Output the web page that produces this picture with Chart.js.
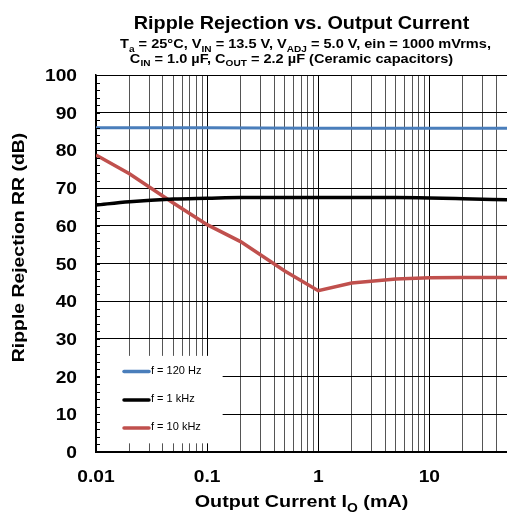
<!DOCTYPE html>
<html>
<head>
<meta charset="utf-8">
<script src="https://cdn.jsdelivr.net/npm/chart.js@4.4.0/dist/chart.umd.min.js"></script>
<style>
  html, body { margin: 0; padding: 0; background: #fff; }
  canvas { display: block; }
</style>
</head>
<body>
<canvas id="myChart" width="507" height="514"></canvas>
<script>
// datos
var xDecadas = [0.01, 0.1, 1, 10];
var xEtiquetas = ['0.01', '0.1', '1', '10'];
var yEtiquetas = [0, 10, 20, 30, 40, 50, 60, 70, 80, 90, 100];

var corriente120 = [0.01, 0.1, 1, 10, 50];
var rr120 = [86.0, 86.0, 85.9, 85.9, 85.9];

var corriente1k = [0.01, 0.02, 0.05, 0.1, 0.2, 0.5, 1, 2, 5, 10, 20, 50];
var rr1k = [65.5, 66.4, 67.1, 67.3, 67.5, 67.5, 67.5, 67.5, 67.5, 67.4, 67.2, 66.9];

var corriente10k = [0.01, 0.02, 0.05, 0.1, 0.2, 0.5, 1, 2, 5, 10, 20, 50];
var rr10k = [78.8, 73.8, 66.0, 60.3, 55.8, 48.0, 42.8, 44.8, 45.9, 46.2, 46.3, 46.3];

var series = ['f = 120 Hz', 'f = 1 kHz', 'f = 10 kHz'];
var colores = ['#4a7ebb', '#000000', '#c0504d'];

function puntos(xs, ys){
  var out = [];
  for (var i = 0; i < xs.length; i++){
    out.push({x: xs[i], y: ys[i]});
  }
  return out;
}

// ticks del eje x: 1..9 por decada hasta 50
var xTicks = [];
for (var d = 0; d < xDecadas.length; d++){
  for (var m = 1; m <= 9; m++){
    var v = +(xDecadas[d] * m).toPrecision(3);
    if (v <= 50) xTicks.push(v);
  }
}

const FONT = '"Liberation Sans", Arial, sans-serif';

// texto con subindices: [[texto, esSub], ...], estirado en x por sx
function textoRico(ctx, partes, x, y, size, sx, align){
  var subSize = Math.round(size * 0.72);
  var total = 0;
  ctx.save();
  partes.forEach(function(p){
    ctx.font = 'bold ' + (p[1] ? subSize : size) + 'px ' + FONT;
    total += ctx.measureText(p[0]).width;
  });
  var x0 = align == 'right' ? x - total * sx : x - total * sx / 2;
  ctx.translate(x0, y);
  ctx.scale(sx, 1);
  ctx.textAlign = 'left';
  ctx.textBaseline = 'alphabetic';
  var px = 0;
  partes.forEach(function(p){
    ctx.font = 'bold ' + (p[1] ? subSize : size) + 'px ' + FONT;
    ctx.fillText(p[0], px, p[1] ? size * 0.28 : 0);
    px += ctx.measureText(p[0]).width;
  });
  ctx.restore();
}

const decoracion = {
  id: 'decoracion',
  beforeDatasetsDraw(chart){
    const ctx = chart.ctx;
    const xs = chart.scales.x, ys = chart.scales.y;
    // fondo blanco de la leyenda
    ctx.save();
    ctx.fillStyle = '#fff';
    ctx.fillRect(xs.left + 4, ys.getPixelForValue(25.5), xs.getPixelForValue(0.138) - xs.left - 4, ys.getPixelForValue(2.3) - ys.getPixelForValue(25.5));
    ctx.restore();
  },
  afterDraw(chart){
    const ctx = chart.ctx;
    const area = chart.chartArea;
    const xs = chart.scales.x, ys = chart.scales.y;
    ctx.save();
    // ticks menores del eje y hacia adentro
    ctx.strokeStyle = '#000';
    ctx.lineWidth = 1;
    for (var v = 0; v <= 100; v += 2){
      var py = Math.round(ys.getPixelForValue(v)) + 0.5;
      ctx.beginPath();
      ctx.moveTo(area.left, py);
      ctx.lineTo(area.left + 4, py);
      ctx.stroke();
    }
    // leyenda
    var ly = [371.5, 400, 428];
    for (var i = 0; i < series.length; i++){
      ctx.strokeStyle = colores[i];
      ctx.lineWidth = 3.5;
      ctx.lineCap = 'round';
      ctx.beginPath();
      ctx.moveTo(124, ly[i]);
      ctx.lineTo(149, ly[i]);
      ctx.stroke();
      ctx.fillStyle = '#000';
      ctx.font = '11px ' + FONT;
      ctx.textAlign = 'left';
      ctx.textBaseline = 'middle';
      ctx.fillText(series[i], 151, ly[i] - 1);
    }
    ctx.fillStyle = '#000';
    // etiquetas de los ejes
    yEtiquetas.forEach(function(v){
      textoRico(ctx, [[String(v), false]], 77, ys.getPixelForValue(v) + 6, 17, 1.13, 'right');
    });
    xDecadas.forEach(function(v, k){
      textoRico(ctx, [[xEtiquetas[k], false]], xs.getPixelForValue(v), 481.5, 17, 1.13, 'center');
    });
    // titulos
    var cx = (area.left + area.right) / 2;
    textoRico(ctx, [['Ripple Rejection vs. Output Current', false]], cx, 28.5, 18, 1.1, 'center');
    textoRico(ctx, [['T', false], ['a', true], [' = 25\u00B0C, V', false], ['IN', true],
      [' = 13.5 V, V', false], ['ADJ', true], [' = 5.0 V, ein = 1000 mVrms,', false]], cx + 4, 48, 13, 1.12, 'center');
    textoRico(ctx, [['C', false], ['IN', true], [' = 1.0 \u00B5F, C', false], ['OUT', true],
      [' = 2.2 \u00B5F (Ceramic capacitors)', false]], cx - 10, 62.5, 13, 1.12, 'center');
    textoRico(ctx, [['Output Current I', false], ['O', true], [' (mA)', false]], cx, 507, 17, 1.16, 'center');
    // titulo eje y
    ctx.translate(24, 247.5);
    ctx.rotate(-Math.PI / 2);
    textoRico(ctx, [['Ripple Rejection RR (dB)', false]], 0, 0, 17, 1.14, 'center');
    ctx.restore();
  }
};

const ctx = document.getElementById('myChart');
new Chart(ctx, {
  type: 'line',
  data: {
    datasets: [{
      label: series[0],
      data: puntos(corriente120, rr120),
      borderColor: colores[0],
      borderWidth: 3,
      cubicInterpolationMode: 'monotone'
    }, {
      label: series[1],
      data: puntos(corriente1k, rr1k),
      borderColor: colores[1],
      borderWidth: 3.5,
      cubicInterpolationMode: 'monotone'
    }, {
      label: series[2],
      data: puntos(corriente10k, rr10k),
      borderColor: colores[2],
      borderWidth: 3.5
    }]
  },
  options: {
    responsive: false,
    animation: false,
    devicePixelRatio: 1,
    elements: { point: { radius: 0 }, line: { tension: 0 } },
    layout: { padding: { top: 75, left: 0, right: 0, bottom: 0 } },
    plugins: {
      legend: { display: false },
      title: { display: false },
      tooltip: { enabled: false }
    },
    scales: {
      x: {
        type: 'logarithmic',
        min: 0.01,
        max: 50,
        afterBuildTicks: function(scale){
          scale.ticks = xTicks.map(function(v){ return {value: v}; });
        },
        afterFit: function(scale){
          scale.height = 62;
          scale.paddingLeft = 0;
          scale.paddingRight = 0;
        },
        ticks: { display: false },
        grid: {
          drawTicks: false,
          lineWidth: 1,
          color: function(c){
            var v = c.tick ? c.tick.value : 0;
            return xDecadas.indexOf(+(+v).toPrecision(3)) >= 0 ? '#000' : '#555';
          }
        },
        border: { display: true, color: '#000', width: 1.5 }
      },
      y: {
        min: 0,
        max: 100,
        afterFit: function(scale){
          scale.width = 96;
          scale.paddingTop = 0;
          scale.paddingBottom = 0;
        },
        ticks: { display: false, stepSize: 10 },
        grid: {
          drawTicks: false,
          lineWidth: 1,
          color: '#000'
        },
        border: { display: true, color: '#000', width: 1.5 }
      }
    }
  },
  plugins: [decoracion]
});
</script>
</body>
</html>
